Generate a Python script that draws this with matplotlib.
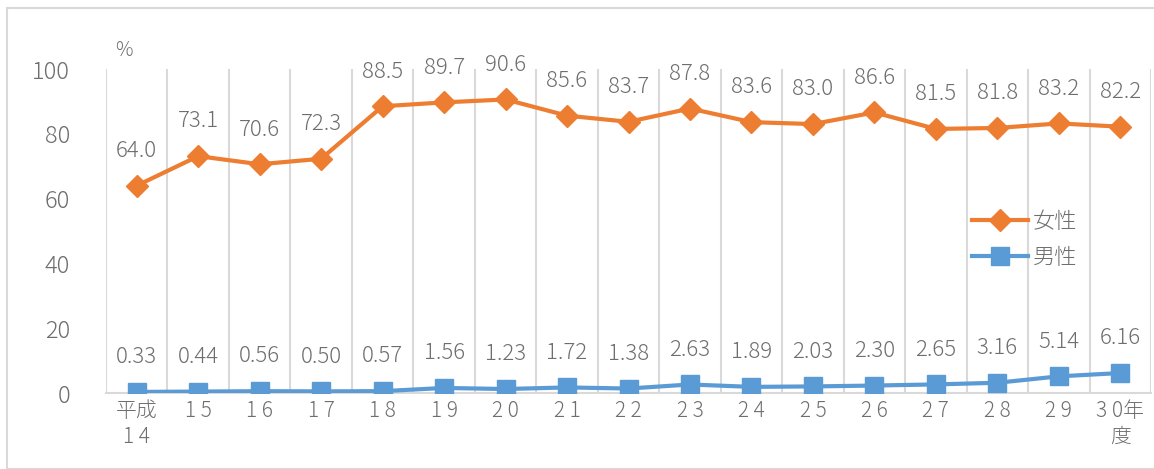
import matplotlib
matplotlib.use("Agg")
from matplotlib import pyplot as plt
from matplotlib.patches import Rectangle

# data
years = ["平成\n1 4", "1 5", "1 6", "1 7", "1 8", "1 9", "2 0", "2 1", "2 2",
         "2 3", "2 4", "2 5", "2 6", "2 7", "2 8", "2 9", "3 0年\n度"]
female = [64.0, 73.1, 70.6, 72.3, 88.5, 89.7, 90.6, 85.6, 83.7, 87.8,
          83.6, 83.0, 86.6, 81.5, 81.8, 83.2, 82.2]
male = [0.33, 0.44, 0.56, 0.50, 0.57, 1.56, 1.23, 1.72, 1.38, 2.63,
        1.89, 2.03, 2.30, 2.65, 3.16, 5.14, 6.16]

plt.rcParams['font.family'] = ['Noto Sans CJK JP', 'DejaVu Sans']
plt.rcParams['font.weight'] = 'light'
gray = "#6E6E6E"
orange = "#ED7D31"
blue = "#5B9BD5"

fig = plt.figure(figsize=(11.54, 4.69), dpi=100)
ax = fig.add_axes([106/1154, 1-393/469, (1151-106)/1154, (393-69)/469])

# outer frame
fig.patches.append(Rectangle((7/1154, 0), 1.2, (469-8)/469, transform=fig.transFigure,
                             fill=False, edgecolor="#D9D9D9", linewidth=1.5))

x = list(range(len(years)))
ax.plot(x, female, color=orange, lw=3, marker="D", ms=11, label="女性", zorder=3)
ax.plot(x, male, color=blue, lw=3, marker="s", ms=12.5, label="男性", zorder=3)

for i in x:
    ax.annotate(f"{female[i]:.1f}", (i, female[i]), xytext=(0, 25), textcoords="offset points",
                ha="center", va="center", fontsize=16, color=gray)
    ax.annotate(f"{male[i]:.2f}", (i, male[i]), xytext=(0, 25), textcoords="offset points",
                ha="center", va="center", fontsize=16, color=gray)

ax.set_xlim(-0.5, len(years) - 0.5)
ax.set_ylim(0, 100)
ax.set_yticks([0, 20, 40, 60, 80, 100])
ax.set_xticks(x)
ax.set_xticklabels(years, fontsize=15, color=gray, linespacing=1.25, va="top")
ax.tick_params(axis="y", labelsize=17, labelcolor=gray, length=0, pad=26)
ax.tick_params(axis="x", length=0, pad=5)

# category boundary lines
for b in range(len(years) + 1):
    ax.axvline(b - 0.5, color="#D9D9D9", lw=1.5, zorder=1)

for s in ["top", "right", "left"]:
    ax.spines[s].set_visible(False)
ax.spines["bottom"].set_color("#D9D9D9")
ax.spines["bottom"].set_linewidth(1.5)

fig.text(124/1154, 1-50/469, "%", fontsize=14, color=gray, ha="center", va="center")

leg = ax.legend(loc="upper left", bbox_to_anchor=(0.81, 0.625), frameon=False,
                fontsize=16, handlelength=2.5, labelcolor=gray, handletextpad=0.2,
                labelspacing=0.65)

plt.savefig("out.png", dpi=100)
